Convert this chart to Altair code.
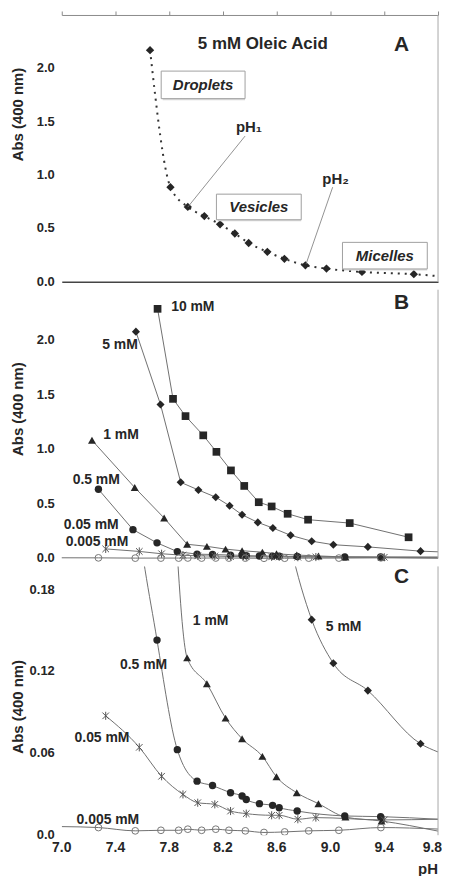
import altair as alt
import pandas as pd

FONT = "Liberation Sans"
INK = "#262626"
LINE = "#707070"

ph_ticks = [7.0, 7.4, 7.8, 8.2, 8.6, 9.0, 9.4, 9.8]
ph_tick_labels = ["7.0", "7.4", "7.8", "8.2", "8.6", "9.0", "9.4", "9.8"]
ab_ticks = [0.0, 0.5, 1.0, 1.5, 2.0]
ab_tick_labels = ["0.0", "0.5", "1.0", "1.5", "2.0"]
c_ticks = [0.0, 0.06, 0.12, 0.18]
c_tick_labels = ["0.0", "0.06", "0.12", "0.18"]

# ---------------- Panel A : 5 mM oleic acid ----------------
a_ph = [7.657, 7.809, 7.938, 8.061, 8.178, 8.288, 8.391, 8.530, 8.657, 8.813, 8.970, 9.234, 9.620]
a_abs = [2.17, 0.886, 0.701, 0.615, 0.538, 0.452, 0.363, 0.280, 0.215, 0.154, 0.123, 0.092, 0.071]
a_tail_ph = [9.78]
a_tail_abs = [0.055]

box_labels = ["Droplets", "Vesicles", "Micelles"]
box_x1 = [7.74, 8.151, 9.089]
box_x2 = [8.364, 8.782, 9.72]
box_y1 = [1.716, 0.581, 0.12]
box_y2 = [1.974, 0.821, 0.369]

ph_notes = ["pH\u2081", "pH\u2082"]
ph_note_x = [8.393, 9.038]
ph_note_y = [1.45, 0.96]
lead_x1 = [8.364, 9.016]
lead_y1 = [1.365, 0.886]
lead_x2 = [7.938, 8.818]
lead_y2 = [0.70, 0.166]

# ---------------- Panels B / C : concentration series ----------------
series = ["10 mM", "5 mM", "1 mM", "0.5 mM", "0.05 mM", "0.005 mM"]

s10_ph = [7.713, 7.828, 7.921, 8.053, 8.151, 8.259, 8.358, 8.466, 8.562, 8.681, 8.833, 9.143, 9.581]
s10_abs = [2.285, 1.461, 1.303, 1.127, 0.976, 0.806, 0.664, 0.515, 0.476, 0.409, 0.355, 0.324, 0.194]

s5_ph = [7.552, 7.735, 7.885, 8.017, 8.146, 8.249, 8.342, 8.459, 8.571, 8.703, 8.860, 9.021, 9.278, 9.670]
s5_abs = [2.076, 1.409, 0.697, 0.627, 0.561, 0.482, 0.400, 0.330, 0.279, 0.212, 0.158, 0.126, 0.106, 0.067]
s5_end = [9.8, 0.061]

s1_ph = [7.225, 7.543, 7.762, 7.933, 8.080, 8.219, 8.342, 8.493, 8.598, 8.749, 8.910, 9.111, 9.380]
s1_abs = [1.082, 0.649, 0.370, 0.130, 0.111, 0.0858, 0.0707, 0.0578, 0.0428, 0.0311, 0.0231, 0.0133, 0.0104]
s1_end = [9.8, 0.003]

s05_ph = [7.273, 7.530, 7.709, 7.860, 8.007, 8.122, 8.256, 8.342, 8.373, 8.471, 8.569, 8.618, 8.752, 9.106, 9.373]
s05_abs = [0.633, 0.264, 0.143, 0.0627, 0.0396, 0.0364, 0.0311, 0.0287, 0.0262, 0.0231, 0.0219, 0.0202, 0.0177, 0.0141, 0.0136]
s05_end = [9.8, 0.0117]

s005_ph = [7.327, 7.577, 7.743, 7.902, 8.012, 8.139, 8.256, 8.373, 8.562, 8.618, 8.757, 8.891, 9.400]
s005_abs = [0.0875, 0.0644, 0.0432, 0.0299, 0.0238, 0.0226, 0.0177, 0.0158, 0.0146, 0.0146, 0.0117, 0.0129, 0.0112]
s005_end = [9.8, 0.0117]

s0005_ph = [7.273, 7.547, 7.738, 7.870, 7.938, 8.041, 8.146, 8.244, 8.366, 8.505, 8.659, 8.838, 9.062, 9.375]
s0005_abs = [0.0056, 0.0032, 0.0036, 0.0036, 0.0044, 0.0036, 0.0044, 0.0036, 0.0032, 0.0020, 0.0024, 0.0032, 0.0036, 0.0056]
s0005_start = [7.0, 0.0063]
s0005_end = [9.8, 0.0045]

# labels (left edge of text) in panel B and C
b_label_x = [7.814, 7.301, 7.308, 7.081, 7.015, 7.029]
b_label_y = [2.30, 1.955, 1.127, 0.718, 0.309, 0.155]
c_labels = ["1 mM", "5 mM", "0.5 mM", "0.05 mM", "0.005 mM"]
c_label_x = [7.975, 8.965, 7.433, 7.095, 7.11]
c_label_y = [0.1567, 0.1523, 0.1246, 0.0714, 0.0109]

# ---------------- helpers ----------------
W = 378
HA, HB, HC = 268, 270, 270
X_SCALE = alt.Scale(domain=[7.0, 9.8], nice=False, zero=False)
YA = alt.Scale(domain=[0, 2.5], nice=False, zero=False)
YB = alt.Scale(domain=[0, 2.46], nice=False, zero=False)
YC = alt.Scale(domain=[0, 0.197], nice=False, zero=False)

series_data = {
    "10 mM": (s10_ph, s10_abs, None, None),
    "5 mM": (s5_ph, s5_abs, None, s5_end),
    "1 mM": (s1_ph, s1_abs, None, s1_end),
    "0.5 mM": (s05_ph, s05_abs, None, s05_end),
    "0.05 mM": (s005_ph, s005_abs, None, s005_end),
    "0.005 mM": (s0005_ph, s0005_abs, s0005_start, s0005_end),
}

STAR = "M-0.85,-0.85L0.85,0.85M-0.85,0.85L0.85,-0.85M0,-1.05L0,1.05"
marker_style = {
    "10 mM": dict(shape="square", size=60, filled=True, color=INK),
    "5 mM": dict(shape="diamond", size=66, filled=True, color=INK),
    "1 mM": dict(shape="triangle-up", size=64, filled=True, color=INK),
    "0.5 mM": dict(shape="circle", size=55, filled=True, color=INK),
    "0.05 mM": dict(shape=STAR, size=60, filled=False, color="#555555", strokeWidth=1),
    "0.005 mM": dict(shape="circle", size=46, filled=False, color="#777777", strokeWidth=1),
}


def y_axis(values):
    return alt.Axis(values=values, labels=False, title=None, grid=False, domainColor="#666",
                    tickColor="#555", tickSize=4)


def xy(xf, yf, yscale, xaxis=None, yaxis=None):
    return dict(x=alt.X(f"{xf}:Q", scale=X_SCALE, axis=xaxis),
                y=alt.Y(f"{yf}:Q", scale=yscale, axis=yaxis))


def y_tick_text(vals, labels, yscale):
    df = pd.DataFrame({"v": vals, "t": labels})
    return alt.Chart(df).mark_text(align="right", baseline="middle", dx=-7, fontSize=13,
                                   fontWeight="bold", color=INK, font=FONT).encode(
        x=alt.value(0), y=alt.Y("v:Q", scale=yscale, axis=None), text="t:N")


def y_title(ypx):
    df = pd.DataFrame({"t": ["Abs (400 nm)"]})
    return alt.Chart(df).mark_text(angle=270, align="center", baseline="middle", fontSize=15,
                                   fontWeight="bold", color=INK, font=FONT).encode(
        x=alt.value(-44), y=alt.value(ypx), text="t:N")


def right_border():
    return alt.Chart(pd.DataFrame({"v": [9.8]})).mark_rule(color="#a8a8a8", strokeWidth=1).encode(
        x=alt.X("v:Q", scale=X_SCALE, axis=None))


def letter(ch, x, y, yscale):
    df = pd.DataFrame({"x": [x], "y": [y], "t": [ch]})
    return alt.Chart(df).mark_text(fontSize=21, fontWeight="bold", color=INK, align="center",
                                   baseline="middle", font=FONT).encode(
        text="t:N", **xy("x", "y", yscale))


# ---------------- Panel A ----------------
a_line_df = pd.DataFrame({"ph": a_ph + a_tail_ph, "abs": a_abs + a_tail_abs})
a_pts_df = pd.DataFrame({"ph": a_ph, "abs": a_abs})

a_top_axis = alt.Axis(orient="top", values=ph_ticks, labels=False, tickSize=4, tickColor="#8a8a8a",
                      domainColor="#8a8a8a", title=None, grid=False, minExtent=4, maxExtent=4)
a_bottom_axis = alt.Axis(orient="bottom", ticks=False, labels=False, domainColor="#444",
                         domainWidth=1.5, title=None, grid=False, minExtent=7, maxExtent=7)

a_line = alt.Chart(a_line_df).mark_line(interpolate="monotone", strokeDash=[2, 5], strokeWidth=2,
                                        color="#333").encode(
    **xy("ph", "abs", YA, xaxis=a_top_axis, yaxis=y_axis(ab_ticks)))
a_pts = alt.Chart(a_pts_df).mark_point(shape="diamond", size=70, filled=True, color=INK, opacity=1).encode(
    **xy("ph", "abs", YA, xaxis=a_bottom_axis))

box_df = pd.DataFrame({"t": box_labels, "x1": box_x1, "x2": box_x2, "y1": box_y1, "y2": box_y2,
                       "xc": [(a + b) / 2 for a, b in zip(box_x1, box_x2)],
                       "yc": [(a + b) / 2 for a, b in zip(box_y1, box_y2)]})
box_shadow = alt.Chart(box_df).mark_rect(fill="#d8d8d8", xOffset=1.5, yOffset=1.5).encode(
    x2="x2:Q", y2="y2:Q", **xy("x1", "y1", YA))
boxes = alt.Chart(box_df).mark_rect(fill="white", stroke="#a0a0a0", strokeWidth=1).encode(
    x2="x2:Q", y2="y2:Q", **xy("x1", "y1", YA))
box_text = alt.Chart(box_df).mark_text(fontSize=15, fontWeight="bold", fontStyle="italic", color=INK,
                                       font=FONT).encode(text="t:N", **xy("xc", "yc", YA))

lead_df = pd.DataFrame({"x1": lead_x1, "y1": lead_y1, "x2": lead_x2, "y2": lead_y2})
leads = alt.Chart(lead_df).mark_rule(color="#777", strokeWidth=0.8).encode(
    x2="x2:Q", y2="y2:Q", **xy("x1", "y1", YA))
ph_df = pd.DataFrame({"t": ph_notes, "x": ph_note_x, "y": ph_note_y})
ph_text = alt.Chart(ph_df).mark_text(fontSize=15, fontWeight="bold", color=INK, font=FONT).encode(
    text="t:N", **xy("x", "y", YA))

title_df = pd.DataFrame({"t": ["5 mM Oleic Acid"], "x": [8.496], "y": [2.232]})
a_title = alt.Chart(title_df).mark_text(fontSize=17, fontWeight="bold", color=INK, font=FONT).encode(
    text="t:N", **xy("x", "y", YA))

panel_a = alt.layer(
    a_line, a_pts, leads, box_shadow, boxes, box_text, ph_text, a_title,
    right_border(), letter("A", 9.529, 2.214, YA),
    y_tick_text(ab_ticks, ab_tick_labels, YA), y_title(100)
).resolve_axis(x="independent").properties(width=W, height=HA)


# ---------------- Panels B and C ----------------
def series_layers(names, yscale, interp, clip, xaxis, yaxis):
    layers = []
    first = True
    for name in names:
        xs, ys, start, end = series_data[name]
        lx = ([start[0]] if start else []) + xs + ([end[0]] if end else [])
        ly = ([start[1]] if start else []) + ys + ([end[1]] if end else [])
        ldf = pd.DataFrame({"ph": lx, "abs": ly})
        enc = xy("ph", "abs", yscale, xaxis=xaxis if first else None,
                 yaxis=yaxis if first else None)
        first = False
        layers.append(alt.Chart(ldf).mark_line(interpolate=interp, color=LINE, strokeWidth=1,
                                               clip=clip).encode(**enc))
    for name in names:
        xs, ys, _, _ = series_data[name]
        pdf = pd.DataFrame({"ph": xs, "abs": ys})
        st = dict(marker_style[name])
        layers.append(alt.Chart(pdf).mark_point(opacity=1, clip=clip, **st).encode(
            **xy("ph", "abs", yscale)))
    return layers


b_xaxis = alt.Axis(orient="bottom", values=ph_ticks, labels=False, tickSize=3, tickColor="#444",
                   domainColor="#222", domainWidth=2, title=None, grid=False, minExtent=3, maxExtent=3)
b_layers = series_layers(series, YB, "linear", False, b_xaxis, y_axis(ab_ticks))
b_lab_df = pd.DataFrame({"t": series, "x": b_label_x, "y": b_label_y})
b_labels = alt.Chart(b_lab_df).mark_text(fontSize=14, fontWeight="bold", color=INK, align="left",
                                         baseline="middle", font=FONT).encode(
    text="t:N", **xy("x", "y", YB))
panel_b = alt.layer(*b_layers, b_labels, right_border(), letter("B", 9.529, 2.336, YB),
                    y_tick_text(ab_ticks, ab_tick_labels, YB), y_title(120)
                    ).properties(width=W, height=HB)

c_xaxis = alt.Axis(orient="bottom", values=ph_ticks, labels=False, title=None, tickSize=4,
                   tickColor="#444", domainColor="#555", grid=False)
c_layers = series_layers(series[1:], YC, "monotone", True, c_xaxis, y_axis(c_ticks))
c_lab_df = pd.DataFrame({"t": c_labels, "x": c_label_x, "y": c_label_y})
c_labels_m = alt.Chart(c_lab_df).mark_text(fontSize=14, fontWeight="bold", color=INK, align="left",
                                           baseline="middle", font=FONT).encode(
    text="t:N", **xy("x", "y", YC))

xl_df = pd.DataFrame({"v": ph_ticks[:-1], "t": ph_tick_labels[:-1]})
x_labels = alt.Chart(xl_df).mark_text(baseline="top", align="center", dy=6, fontSize=14,
                                      fontWeight="bold", color=INK, font=FONT).encode(
    x=alt.X("v:Q", scale=X_SCALE, axis=None), y=alt.value(HC), text="t:N")
xl_last_df = pd.DataFrame({"v": ph_ticks[-1:], "t": ph_tick_labels[-1:]})
x_label_last = alt.Chart(xl_last_df).mark_text(baseline="top", align="right", dx=4, dy=6,
                                               fontSize=14, fontWeight="bold", color=INK,
                                               font=FONT).encode(
    x=alt.X("v:Q", scale=X_SCALE, axis=None), y=alt.value(HC), text="t:N")
ph_title_df = pd.DataFrame({"v": [9.8], "t": ["pH"]})
x_title = alt.Chart(ph_title_df).mark_text(baseline="top", align="right", dy=27, fontSize=15,
                                           fontWeight="bold", color=INK, font=FONT).encode(
    x=alt.X("v:Q", scale=X_SCALE, axis=None), y=alt.value(HC), text="t:N")

panel_c = alt.layer(*c_layers, c_labels_m, right_border(), letter("C", 9.529, 0.1895, YC),
                    y_tick_text(c_ticks, c_tick_labels, YC), y_title(141),
                    x_labels, x_label_last, x_title
                    ).properties(width=W, height=HC)

chart = alt.vconcat(panel_a, panel_b, panel_c, spacing=0).properties(
    padding={"left": 3, "top": 0, "right": 0, "bottom": 0}
).configure(font=FONT).configure_view(stroke=None)

chart.save("out.html", embed_options={"renderer": "svg", "actions": False})
